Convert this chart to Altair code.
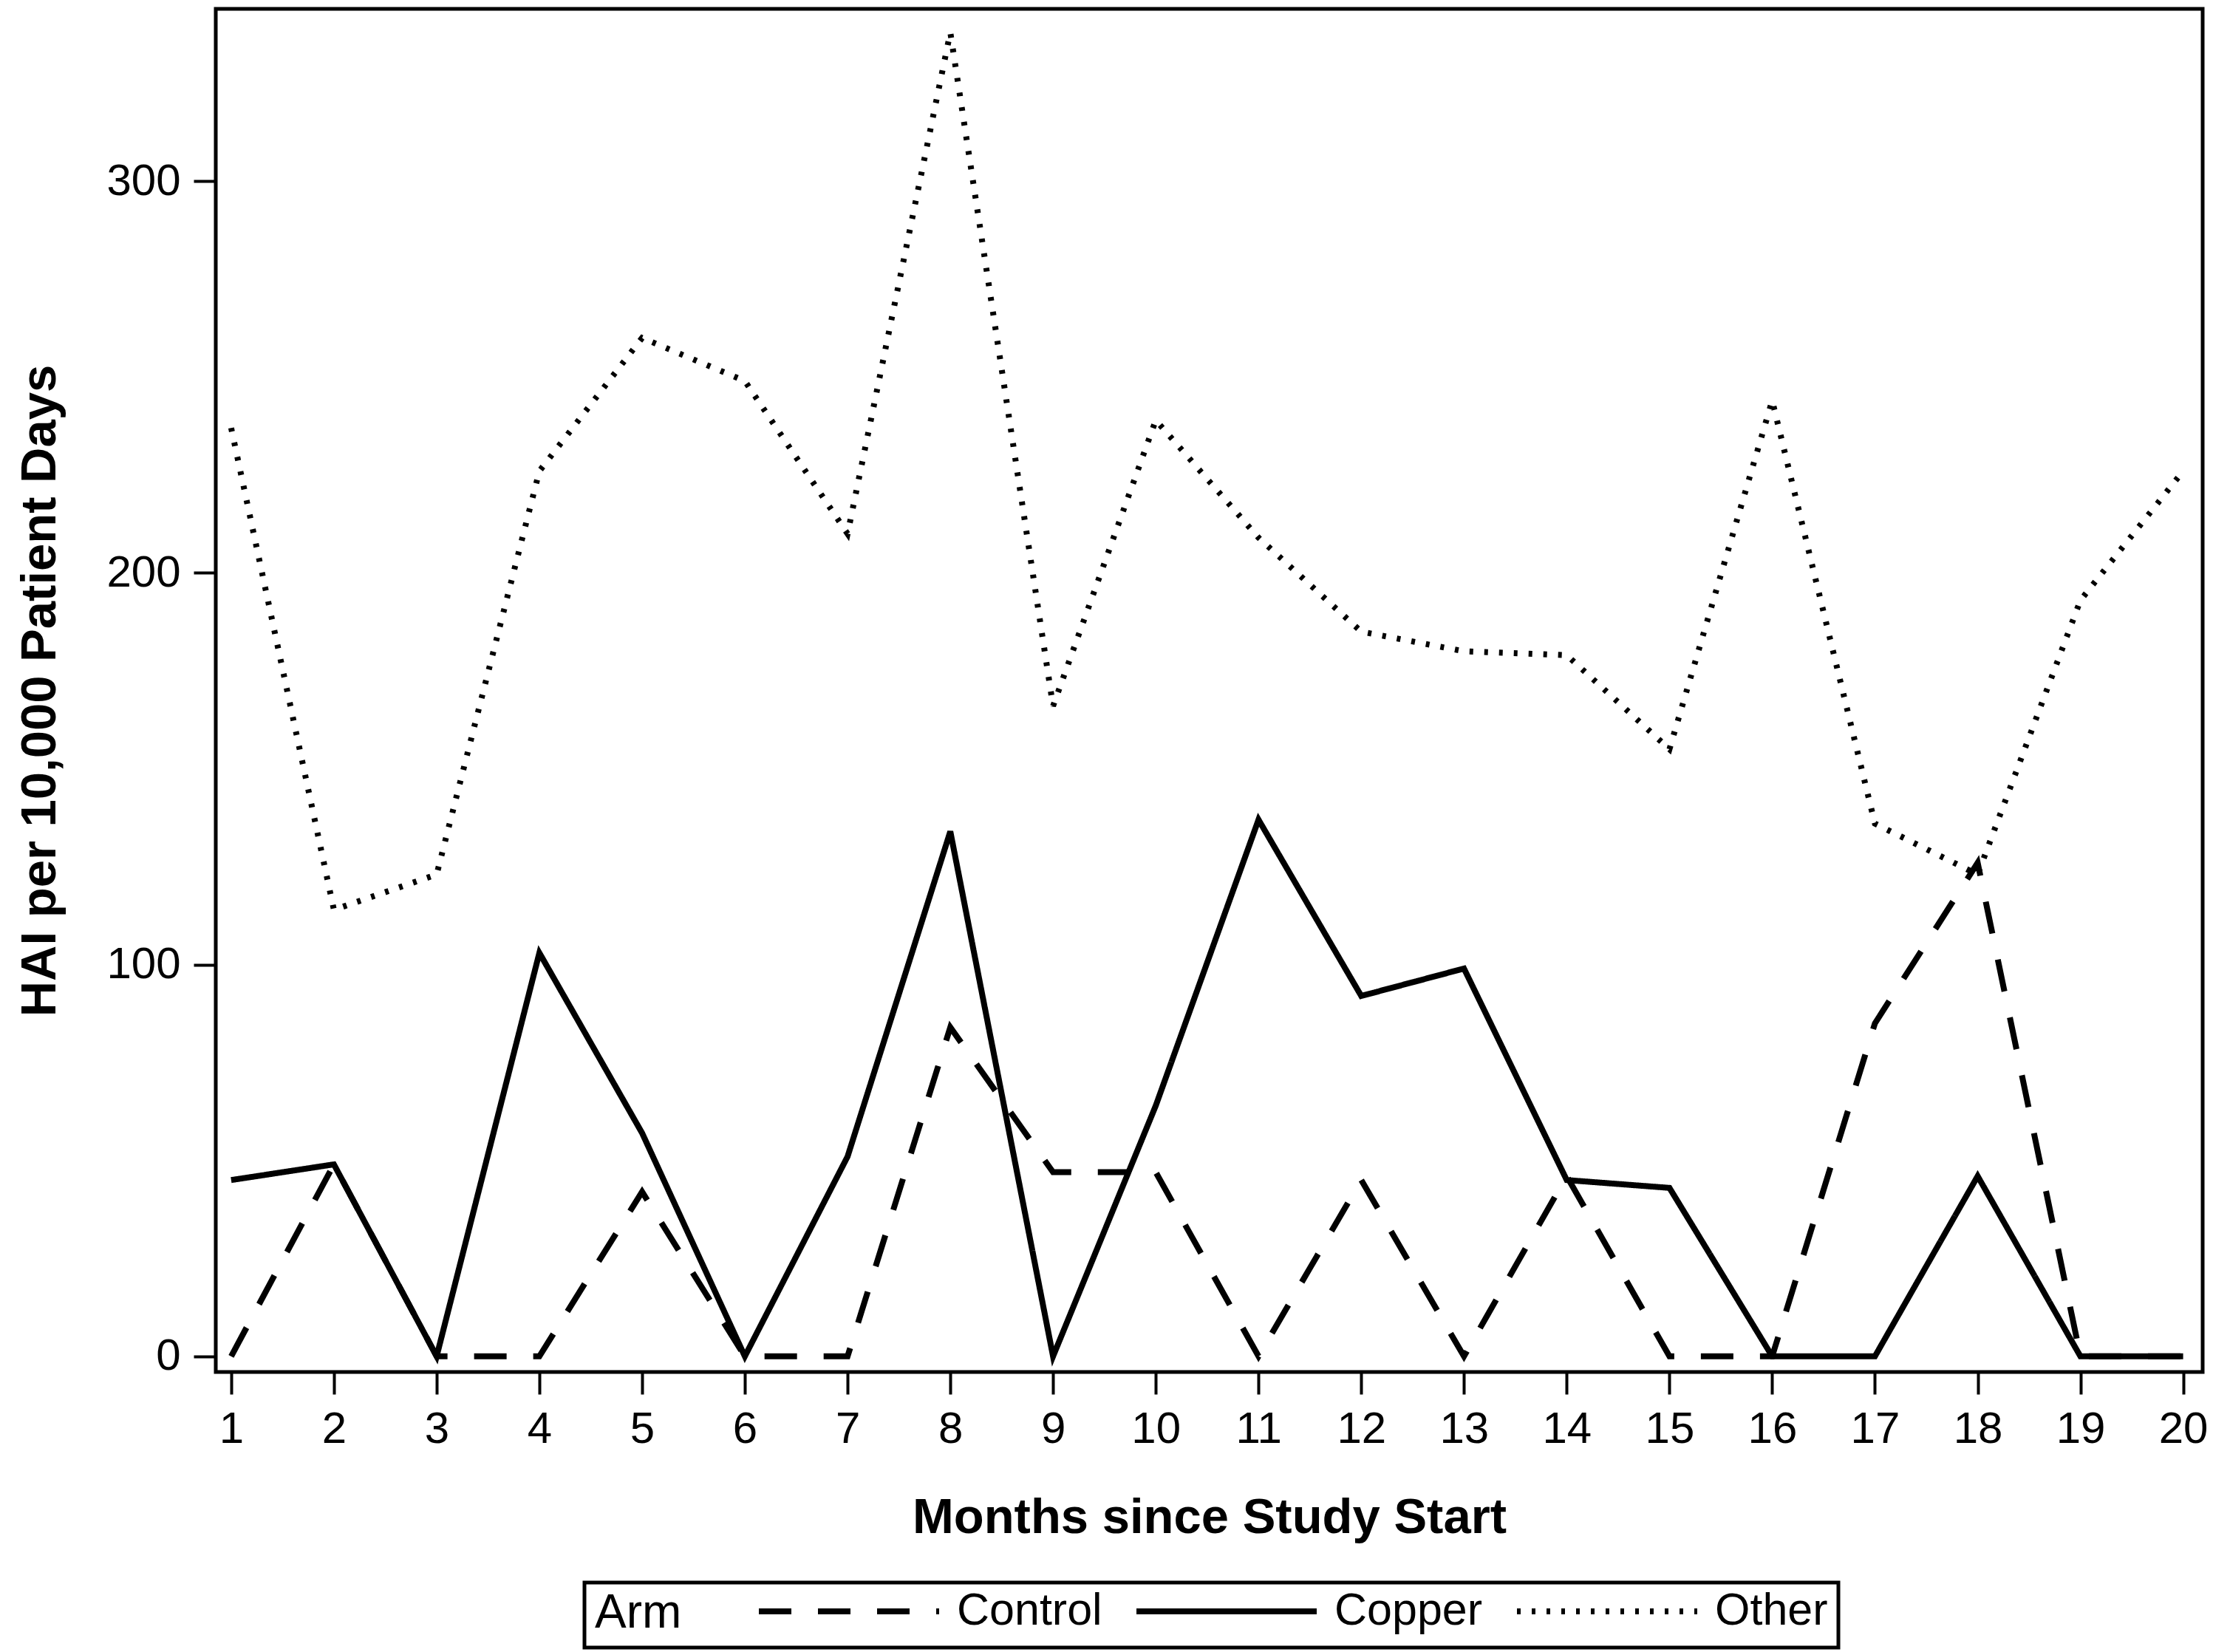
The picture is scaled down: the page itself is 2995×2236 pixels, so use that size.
import altair as alt
import pandas as pd

# Monthly hospital-acquired infection rates by study arm
months = list(range(1, 21))
control = [0, 49, 0, 0, 42, 0, 0, 84, 47, 47, 0, 45, 0, 46, 0, 0, 85, 126, 0, 0]
copper = [45, 49, 0, 103, 57, 0, 51, 134, 0, 64, 137, 92, 99, 45, 43, 0, 0, 46, 0, 0]
other = [237, 114, 123, 226, 260, 249, 210, 338, 166, 239, 209, 185, 180, 179, 155, 244, 136, 123, 193, 226]

arms = ["Control", "Copper", "Other"]
dash_styles = [[44, 36], [1, 0], [5, 15]]
y_ticks = [0, 100, 200, 300]

rows = []
for arm, series in zip(arms, [control, copper, other]):
    for m, v in zip(months, series):
        rows.append({"Month": m, "HAI": v, "Arm": arm})
df = pd.DataFrame(rows)

FONT = "Liberation Sans"

chart = (
    alt.Chart(df)
    .mark_line(color="black", strokeWidth=8, strokeCap="butt", strokeJoin="miter")
    .encode(
        x=alt.X(
            "Month:Q",
            scale=alt.Scale(domain=[0.85, 20.19], nice=False, zero=False),
            axis=alt.Axis(values=months, title="Months since Study Start", titlePadding=57),
        ),
        y=alt.Y(
            "HAI:Q",
            scale=alt.Scale(domain=[-4, 344], nice=False, zero=False),
            axis=alt.Axis(values=y_ticks, title="HAI per 10,000 Patient Days", titlePadding=55),
        ),
        strokeDash=alt.StrokeDash(
            "Arm:N",
            scale=alt.Scale(domain=arms, range=dash_styles),
            legend=alt.Legend(
                title="Arm",
                orient="none",
                legendX=499,
                legendY=2130,
                direction="horizontal",
                titleOrient="left",
                titleAnchor="middle",
                titleBaseline="middle",
                titleFontSize=64,
                titleFontWeight="normal",
                titleColor="black",
                titleFont=FONT,
                titlePadding=100,
                labelFontSize=61,
                labelFont=FONT,
                labelColor="black",
                labelLimit=600,
                labelOffset=20,
                columnPadding=42,
                clipHeight=50,
                symbolType="stroke",
                symbolSize=244 * 244,
                symbolStrokeWidth=8,
                symbolStrokeColor="black",
                strokeColor="black",
                padding=14,
            ),
        ),
    )
    .properties(
        width=2689,
        height=1845,
        autosize=alt.AutoSizeParams(type="none"),
        padding={"left": 292, "top": 12, "right": 14, "bottom": 379},
    )
    .configure_view(stroke="black", strokeWidth=5)
    .configure_axis(
        domain=False,
        grid=False,
        ticks=True,
        tickColor="black",
        tickWidth=4,
        tickSize=30,
        labelFont=FONT,
        labelFontSize=60,
        labelColor="black",
        labelPadding=18,
        titleFont=FONT,
        titleFontSize=67,
        titleFontWeight="bold",
        titleColor="black",
    )
    .configure_legend(strokeWidth=5)
)

chart.save("out.html", embed_options={"renderer": "svg", "actions": False})
